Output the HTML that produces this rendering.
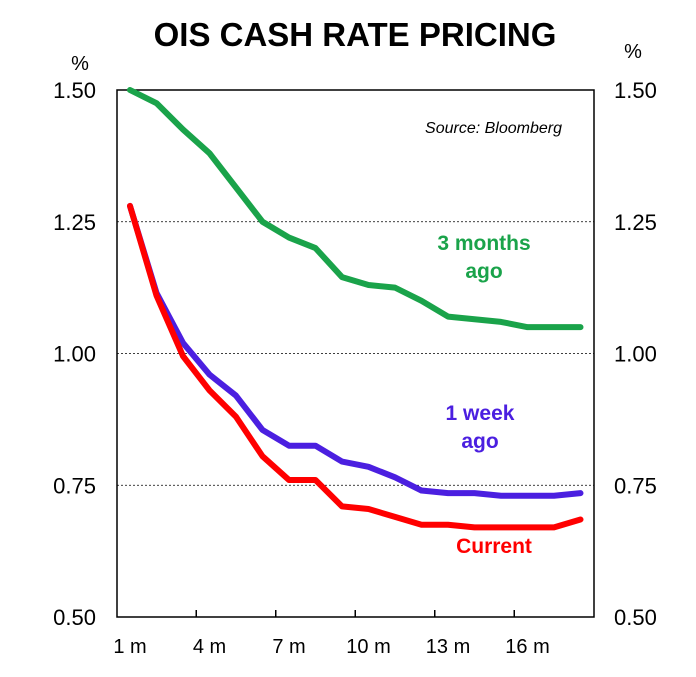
<!DOCTYPE html>
<html><head><meta charset="utf-8"><style>
body{margin:0;background:#fff;}
svg text{font-family:"Liberation Sans",Arial,sans-serif;}
</style></head><body>
<svg id="chart" width="696" height="672" xmlns="http://www.w3.org/2000/svg">
<text x="355" y="46" text-anchor="middle" font-size="33" font-weight="bold">OIS CASH RATE PRICING</text>
<text x="80" y="70" text-anchor="middle" font-size="20">%</text>
<text x="633" y="58" text-anchor="middle" font-size="20">%</text>
<text x="562" y="133" text-anchor="end" font-size="16" font-style="italic">Source: Bloomberg</text>
<g id="grid"></g><g id="axes"></g><g id="series"></g>
<text x="484" y="250" text-anchor="middle" font-size="21" font-weight="bold" fill="#1aa34a">3 months</text>
<text x="484" y="278" text-anchor="middle" font-size="21" font-weight="bold" fill="#1aa34a">ago</text>
<text x="480" y="420" text-anchor="middle" font-size="21" font-weight="bold" fill="#4b1fe0">1 week</text>
<text x="480" y="448" text-anchor="middle" font-size="21" font-weight="bold" fill="#4b1fe0">ago</text>
<text x="494" y="553" text-anchor="middle" font-size="21" font-weight="bold" fill="#f00">Current</text>
</svg>
<script>
const months=[1,2,3,4,5,6,7,8,9,10,11,12,13,14,15,16,17,18];
const green=[1.50,1.475,1.425,1.38,1.315,1.25,1.22,1.20,1.145,1.13,1.125,1.10,1.07,1.065,1.06,1.05,1.05,1.05];
const blue=[1.28,1.115,1.02,0.96,0.92,0.855,0.825,0.825,0.795,0.785,0.765,0.74,0.735,0.735,0.73,0.73,0.73,0.735];
const red=[1.28,1.11,0.995,0.93,0.88,0.805,0.76,0.76,0.71,0.705,0.69,0.675,0.675,0.67,0.67,0.67,0.67,0.685];
const yTicks=[0.50,0.75,1.00,1.25,1.50];
const xTicks=[1,4,7,10,13,16];
const L=117,R=594,T=90,B=617;
const x=m=>130+(m-1)*26.5;
const y=v=>B-(v-0.5)/1.0*(B-T);
const NS="http://www.w3.org/2000/svg";
function mk(tag,attrs,parent,text){const e=document.createElementNS(NS,tag);for(const k in attrs)e.setAttribute(k,attrs[k]);if(text!==undefined)e.textContent=text;document.getElementById(parent).appendChild(e);return e;}
yTicks.forEach(v=>{
 if(v>0.5&&v<1.5){const g=mk('line',{x1:L,x2:R,y1:y(v),y2:y(v),stroke:'#000','stroke-width':0.8,'stroke-dasharray':'2,2'},'grid');
 
 }
 const t1=mk('text',{x:96,y:y(v)+8,'text-anchor':'end','font-size':22},'axes',v.toFixed(2));
 
 
 const t2=mk('text',{x:614,y:y(v)+8,'font-size':22},'axes',v.toFixed(2));
 
 
});
const fr=mk('rect',{x:L,y:T,width:R-L,height:B-T,fill:'none',stroke:'#000','stroke-width':1.5},'axes');


[3,6,9,12,15].forEach(m=>{
 const tk=mk('line',{x1:x(m+0.5),x2:x(m+0.5),y1:B,y2:B-7,stroke:'#000','stroke-width':1.5},'axes');
 
 
});
xTicks.forEach(m=>{
 const t=mk('text',{x:x(m),y:B+36,'text-anchor':'middle','font-size':20},'axes',m+' m');
 
 
});
function line(data,color,name){
 const p=mk('polyline',{points:data.map((v,i)=>x(months[i])+','+y(v)).join(' '),fill:'none',stroke:color,'stroke-width':6,'stroke-linejoin':'round','stroke-linecap':'round'},'series');
 
 
}
line(green,'#1aa34a','series-3-months-ago');
line(blue,'#4b1fe0','series-1-week-ago');
line(red,'#f00','series-current');
</script>
</body></html>
